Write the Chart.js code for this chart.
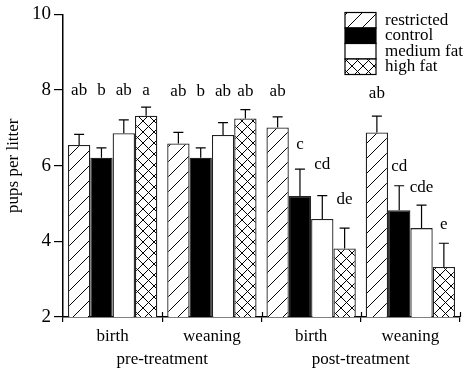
<!DOCTYPE html>
<html>
<head>
<meta charset="utf-8">
<script src="https://cdn.jsdelivr.net/npm/chart.js@4"></script>
<style>
  body { margin: 0; background: #fff; }
  canvas { display: block; }
</style>
</head>
<body>
<canvas id="pupsChart" width="470" height="368"></canvas>
<script>
const categories = ['birth', 'weaning', 'birth', 'weaning'];
const periods = ['pre-treatment', 'post-treatment'];
const yTicks = [2, 4, 6, 8, 10];

const restricted = [6.55, 6.59, 7.01, 6.88];
const control = [6.21, 6.21, 5.20, 4.82];
const mediumFat = [6.86, 6.81, 4.59, 4.35];
const highFat = [7.32, 7.25, 3.81, 3.32];

const restrictedErr = [0.28, 0.29, 0.28, 0.43];
const controlErr = [0.26, 0.26, 0.71, 0.65];
const mediumFatErr = [0.35, 0.33, 0.62, 0.61];
const highFatErr = [0.23, 0.23, 0.54, 0.63];

// significance letters and the level (in pups) they sit at
const restrictedLetters = ['ab', 'ab', 'ab', 'ab'];
const controlLetters = ['b', 'b', 'c', 'cd'];
const mediumFatLetters = ['ab', 'ab', 'cd', 'cde'];
const highFatLetters = ['a', 'ab', 'de', 'e'];
const restrictedLetterAt = [8.0, 7.96, 7.96, 7.92];
const controlLetterAt = [8.0, 7.96, 6.55, 5.97];
const mediumFatLetterAt = [8.0, 7.96, 6.03, 5.42];
const highFatLetterAt = [8.0, 7.96, 5.11, 4.45];

const FONT = '"Liberation Serif", "DejaVu Serif", serif';

function makePattern(kind) {
    const c = document.createElement('canvas');
    const ctx = c.getContext('2d');
    const s = kind === 'hatch' ? 15 : 11;
    c.width = s; c.height = s;
    ctx.fillStyle = '#fff';
    ctx.fillRect(0, 0, s, s);
    ctx.strokeStyle = '#000';
    ctx.lineWidth = 1;
    ctx.beginPath();
    ctx.moveTo(-1, s + 1); ctx.lineTo(s + 1, -1);
    if (kind === 'cross') {
        ctx.moveTo(-1, -1); ctx.lineTo(s + 1, s + 1);
    }
    ctx.stroke();
    return ctx.createPattern(c, 'repeat');
}

const hatch = makePattern('hatch');
const cross = makePattern('cross');

const series = [
    { label: 'restricted', data: restricted, err: restrictedErr, letters: restrictedLetters, letterAt: restrictedLetterAt, fill: hatch },
    { label: 'control', data: control, err: controlErr, letters: controlLetters, letterAt: controlLetterAt, fill: '#000' },
    { label: 'medium fat', data: mediumFat, err: mediumFatErr, letters: mediumFatLetters, letterAt: mediumFatLetterAt, fill: '#fff' },
    { label: 'high fat', data: highFat, err: highFatErr, letters: highFatLetters, letterAt: highFatLetterAt, fill: cross }
];

const extras = {
    id: 'extras',
    afterDatasetsDraw(chart) {
        const ctx = chart.ctx;
        const y = chart.scales.y;
        const x = chart.scales.x;
        ctx.save();
        // ticks crossing the x axis at the group boundaries
        ctx.strokeStyle = '#000';
        ctx.lineWidth = 1.2;
        const base = chart.chartArea.bottom;
        for (let k = 1; k <= categories.length; k++) {
            const px = Math.round(x.getPixelForValue(k - 0.5)) + 0.5;
            ctx.beginPath();
            ctx.moveTo(px, base - 5);
            ctx.lineTo(px, base);
            ctx.stroke();
        }
        // error bars (upper only)
        series.forEach((s, i) => {
            chart.getDatasetMeta(i).data.forEach((bar, j) => {
                const top = y.getPixelForValue(s.data[j]);
                const cap = y.getPixelForValue(s.data[j] + s.err[j]);
                ctx.beginPath();
                ctx.moveTo(bar.x, top);
                ctx.lineTo(bar.x, cap);
                ctx.moveTo(bar.x - 5, cap);
                ctx.lineTo(bar.x + 5, cap);
                ctx.stroke();
            });
        });
        // letters
        ctx.fillStyle = '#000';
        ctx.font = '17px ' + FONT;
        ctx.textAlign = 'center';
        ctx.textBaseline = 'middle';
        series.forEach((s, i) => {
            chart.getDatasetMeta(i).data.forEach((bar, j) => {
                ctx.fillText(s.letters[j], bar.x, y.getPixelForValue(s.letterAt[j]));
            });
        });
        // legend box
        const lx = 345, ly = 12.5, w = 31, h = 15.5;
        series.forEach((s, i) => {
            ctx.fillStyle = s.fill;
            ctx.fillRect(lx, ly + i * h, w, h);
            ctx.strokeStyle = '#000';
            ctx.lineWidth = 1.2;
            ctx.strokeRect(lx, ly + i * h, w, h);
            ctx.fillStyle = '#000';
            ctx.textAlign = 'left';
            ctx.fillText(s.label, lx + 40, ly + i * h + h / 2);
        });
        ctx.restore();
    }
};

new Chart(document.getElementById('pupsChart'), {
    type: 'bar',
    data: {
        labels: categories,
        datasets: series.map(s => ({
            label: s.label,
            data: s.data,
            backgroundColor: s.fill,
            borderColor: '#222',
            borderWidth: 1.3,
            borderSkipped: 'bottom',
            categoryPercentage: 0.9,
            barPercentage: 1.0
        }))
    },
    options: {
        responsive: false,
        animation: false,
        devicePixelRatio: 1,
        layout: { padding: { top: 11, right: 10, left: 0, bottom: 0 } },
        plugins: {
            legend: { display: false },
            tooltip: { enabled: false }
        },
        scales: {
            x: {
                weight: 0,
                offset: true,
                grid: { offset: true, drawOnChartArea: false, color: '#000', tickLength: 5, lineWidth: 1.2 },
                border: { color: '#000', width: 1.5 },
                ticks: { color: '#000', font: { family: FONT, size: 17 }, padding: 4 },
                afterFit: s => { s.height = 30; }
            },
            x2: {
                type: 'category',
                labels: periods,
                position: 'bottom',
                weight: 1,
                offset: true,
                grid: { display: false, drawTicks: false },
                border: { display: false },
                ticks: { color: '#000', font: { family: FONT, size: 17 }, padding: 2 },
                afterFit: s => { s.height = 21; }
            },
            y: {
                min: 2,
                max: 10,
                afterBuildTicks: s => { s.ticks = yTicks.map(v => ({ value: v })); },
                grid: { drawOnChartArea: false, color: '#000', tickLength: 9, lineWidth: 1.2 },
                border: { color: '#000', width: 1.5 },
                ticks: { color: '#000', font: { family: FONT, size: 19 }, padding: 3 },
                title: { display: true, text: 'pups per litter', color: '#000', font: { family: FONT, size: 17 }, padding: { top: 3, bottom: 0 } },
                afterFit: s => { s.width = 63; }
            }
        }
    },
    plugins: [extras]
});
</script>
</body>
</html>
